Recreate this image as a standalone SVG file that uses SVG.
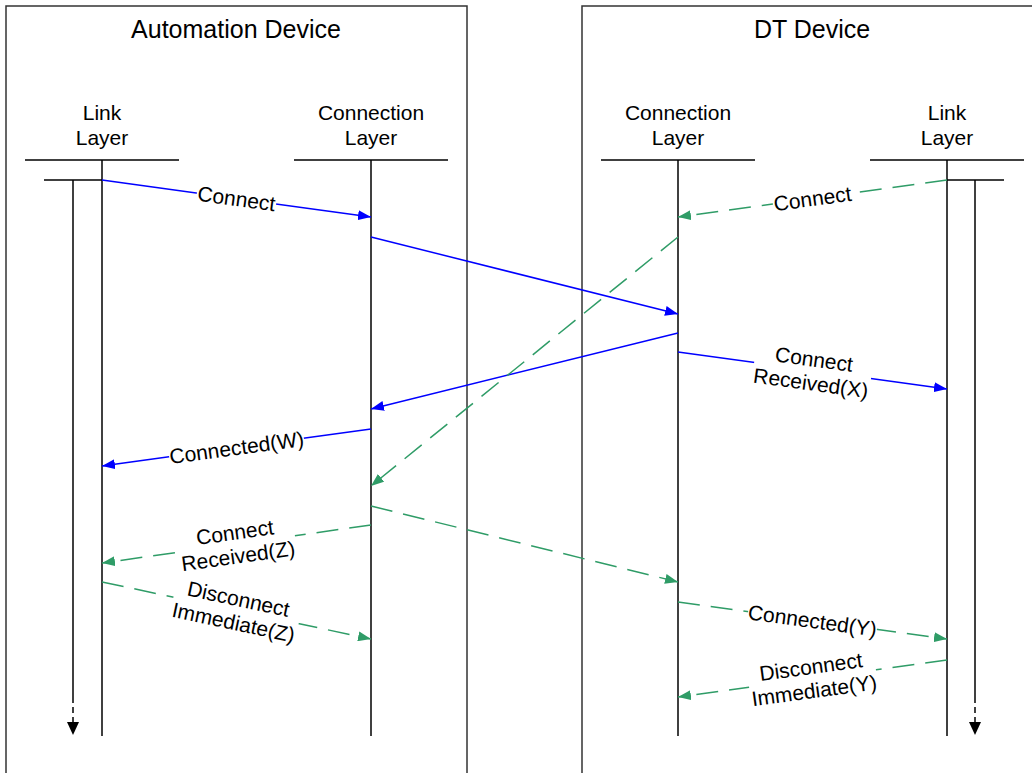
<svg xmlns="http://www.w3.org/2000/svg" width="1032" height="773" viewBox="0 0 1032 773">
<style>
.box{fill:none;stroke:#333;stroke-width:1.5}
.life{stroke:#000;stroke-width:1.5;fill:none}
.t{font-family:"Liberation Sans",Arial,sans-serif;font-size:21px;fill:#000;text-anchor:middle}
.title{font-family:"Liberation Sans",Arial,sans-serif;font-size:25px;fill:#000;text-anchor:middle}
.blue{stroke:#0000FF;stroke-width:1.5;fill:none;marker-end:url(#ab)}
.green{stroke:#2F9C67;stroke-width:1.5;fill:none;stroke-dasharray:22 11;marker-end:url(#ag)}
.bg{fill:#fff}
</style>
<defs>
<marker id="ab" markerUnits="userSpaceOnUse" markerWidth="13" markerHeight="10" refX="13" refY="5" orient="auto"><path d="M0,0 L13,5 L0,10 z" fill="#0000FF"/></marker>
<marker id="ag" markerUnits="userSpaceOnUse" markerWidth="13" markerHeight="10" refX="13" refY="5" orient="auto"><path d="M0,0 L13,5 L0,10 z" fill="#2F9C67"/></marker>
<marker id="ak" markerUnits="userSpaceOnUse" markerWidth="13" markerHeight="12" refX="13" refY="6" orient="auto"><path d="M0,0 L13,6 L0,12 z" fill="#000"/></marker>
</defs>
<rect width="1032" height="773" fill="#fff"/>
<g id="automation-device">
<rect class="box" x="6" y="6" width="461" height="800"/>
<text class="title" x="236" y="38">Automation Device</text>
</g>
<g id="dt-device">
<rect class="box" x="582" y="6" width="480" height="800"/>
<text class="title" x="812" y="38">DT Device</text>
</g>
<g id="ad-link-layer">
<text class="t" x="102" y="120">Link</text>
<text class="t" x="102" y="145">Layer</text>
<line class="life" x1="25" y1="160" x2="179" y2="160"/>
<line class="life" x1="102" y1="160" x2="102" y2="736"/>
<line class="life" x1="44" y1="180" x2="102" y2="180"/>
<line class="life" x1="73" y1="180" x2="73" y2="697"/>
<line class="life" x1="73" y1="697" x2="73" y2="735" stroke-dasharray="6 4" marker-end="url(#ak)"/>
</g>
<g id="ad-connection-layer">
<text class="t" x="371" y="120">Connection</text>
<text class="t" x="371" y="145">Layer</text>
<line class="life" x1="294" y1="160" x2="448" y2="160"/>
<line class="life" x1="371" y1="160" x2="371" y2="736"/>
</g>
<g id="dt-connection-layer">
<text class="t" x="678" y="120">Connection</text>
<text class="t" x="678" y="145">Layer</text>
<line class="life" x1="601" y1="160" x2="755" y2="160"/>
<line class="life" x1="678" y1="160" x2="678" y2="736"/>
</g>
<g id="dt-link-layer">
<text class="t" x="947" y="120">Link</text>
<text class="t" x="947" y="145">Layer</text>
<line class="life" x1="870" y1="160" x2="1024" y2="160"/>
<line class="life" x1="947" y1="160" x2="947" y2="736"/>
<line class="life" x1="947" y1="180" x2="1004" y2="180"/>
<line class="life" x1="975" y1="180" x2="975" y2="697"/>
<line class="life" x1="975" y1="697" x2="975" y2="735" stroke-dasharray="6 4" marker-end="url(#ak)"/>
</g>
<g id="connectors">
<line class="blue" x1="102" y1="180" x2="371" y2="217"/>
<line class="blue" x1="371" y1="237" x2="678" y2="314"/>
<line class="blue" x1="678" y1="333" x2="371" y2="409"/>
<line class="blue" x1="678" y1="352" x2="947" y2="389"/>
<line class="blue" x1="371" y1="429" x2="102" y2="466"/>
<line class="green" x1="947" y1="180" x2="678" y2="217"/>
<line class="green" x1="678" y1="237" x2="371" y2="486"/>
<line class="green" x1="371" y1="506" x2="678" y2="582"/>
<line class="green" x1="371" y1="525" x2="102" y2="563"/>
<line class="green" x1="102" y1="582" x2="371" y2="639"/>
<line class="green" x1="678" y1="602" x2="947" y2="639"/>
<line class="green" x1="947" y1="660" x2="678" y2="697"/>
<g transform="translate(236.5,198.5) rotate(7.8)"><rect class="bg" x="-40" y="-11" width="80" height="22"/><text class="t" y="7.5">Connect</text></g>
<g transform="translate(812.5,198.5) rotate(-7.8)"><rect class="bg" x="-40" y="-11" width="80" height="22"/><text class="t" y="7.5">Connect</text></g>
<g transform="translate(812.5,371) rotate(7.8)"><rect class="bg" x="-59" y="-23" width="118" height="46"/><text class="t" y="-4.5">Connect</text><text class="t" y="19.5">Received(X)</text></g>
<g transform="translate(236.5,447.5) rotate(-7.8)"><rect class="bg" x="-68" y="-11" width="136" height="22"/><text class="t" y="7.5">Connected(W)</text></g>
<g transform="translate(236.5,544) rotate(-8)"><rect class="bg" x="-59" y="-23" width="118" height="46"/><text class="t" y="-4.5">Connect</text><text class="t" y="19.5">Received(Z)</text></g>
<g transform="translate(236,610.5) rotate(12)"><rect class="bg" x="-64" y="-23" width="128" height="46"/><text class="t" y="-4.5">Disconnect</text><text class="t" y="19.5">Immediate(Z)</text></g>
<g transform="translate(812.5,620.5) rotate(7.8)"><rect class="bg" x="-65" y="-11" width="130" height="22"/><text class="t" y="7.5">Connected(Y)</text></g>
<g transform="translate(812.5,678.5) rotate(-7.8)"><rect class="bg" x="-64" y="-23" width="128" height="46"/><text class="t" y="-4.5">Disconnect</text><text class="t" y="19.5">Immediate(Y)</text></g>
</g>
</svg>
